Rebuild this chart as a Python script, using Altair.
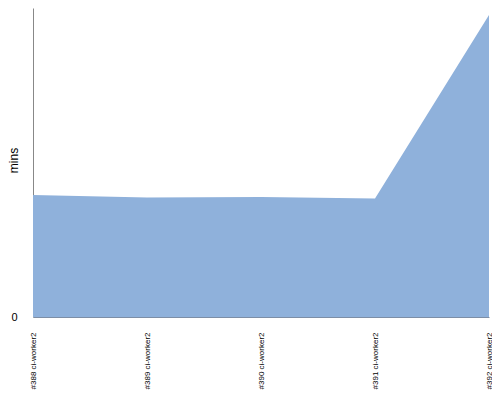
import altair as alt
import pandas as pd

builds = ["#388 ci-worker2", "#389 ci-worker2", "#390 ci-worker2", "#391 ci-worker2", "#392 ci-worker2"]
mins = [12.2, 11.95, 12.0, 11.85, 30.2]

df = pd.DataFrame({"build": builds, "mins": mins})

chart = alt.Chart(df).mark_area(color="#8fb1db", opacity=1, interpolate="linear").encode(
    x=alt.X("build:N", sort=builds, title=None,
            scale=alt.Scale(type="point", padding=0),
            axis=alt.Axis(labelAngle=-90, labelFontSize=8, labelFont="Liberation Sans",
                          labelColor="#000", ticks=False, labelPadding=15,
                          domainColor="#7d8ea6", grid=False, labelLimit=200)),
    y=alt.Y("mins:Q", title="mins", scale=alt.Scale(domain=[0, 30.9], nice=False),
            axis=alt.Axis(values=[0], ticks=False, labelPadding=16, labelFontSize=11,
                          labelFont="Liberation Sans", labelColor="#000", grid=False,
                          domainColor="#888", titleFont="Liberation Sans", titleFontSize=12,
                          titleFontWeight="normal", titleColor="#000", titleAngle=-90,
                          titleX=-20, titleY=152, titleBaseline="middle", titleAlign="center")),
).properties(
    width=456, height=309,
    autosize=alt.AutoSizeParams(type="none"),
    padding={"left": 25, "top": 0, "right": 3, "bottom": 75},
).configure_view(stroke=None)

chart.save("out.html", embed_options={"renderer": "svg", "actions": False})
